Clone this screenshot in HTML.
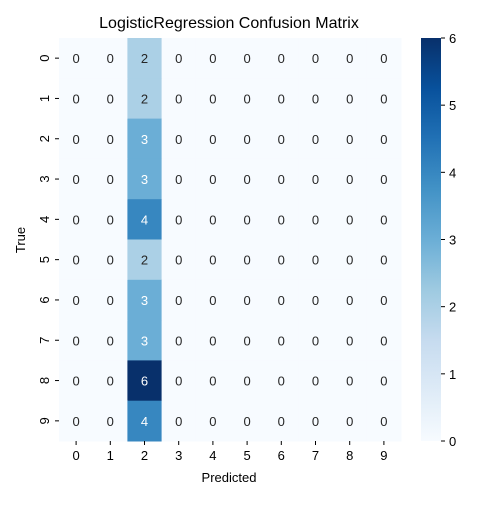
<!DOCTYPE html>
<html><head><meta charset="utf-8"><style>
body{margin:0;background:#fff}
text{font-family:"Liberation Sans","DejaVu Sans",sans-serif}
</style></head><body>
<svg id="c" width="500" height="500" xmlns="http://www.w3.org/2000/svg">
<defs><linearGradient id="g" x1="0" y1="1" x2="0" y2="0">
<stop offset="0" stop-color="#f7fbff"/><stop offset="0.125" stop-color="#deebf7"/><stop offset="0.25" stop-color="#c6dbef"/><stop offset="0.375" stop-color="#9ecae1"/><stop offset="0.5" stop-color="#6baed6"/><stop offset="0.625" stop-color="#4292c6"/><stop offset="0.75" stop-color="#2171b5"/><stop offset="0.875" stop-color="#08519c"/><stop offset="1" stop-color="#08306b"/>
</linearGradient></defs>
</svg>
<script>
const labels=["0","1","2","3","4","5","6","7","8","9"];
const col2=[2,2,3,3,4,2,3,3,6,4];
const cbTicks=[0,1,2,3,4,5,6];
const vmax=6;
const svg=document.getElementById('c');
const NS='http://www.w3.org/2000/svg';
const X0=59,Y0=38,CW=34.2,CH=40.3;
const stops=[[0,[247,251,255]],[.125,[222,235,247]],[.25,[198,219,239]],[.375,[158,202,225]],[.5,[107,174,214]],[.625,[66,146,198]],[.75,[33,113,181]],[.875,[8,81,156]],[1,[8,48,107]]];
function cmap(t){for(let i=1;i<stops.length;i++){if(t<=stops[i][0]){const a=stops[i-1],b=stops[i],f=(t-a[0])/(b[0]-a[0]);return 'rgb('+a[1].map((v,k)=>Math.round(v+(b[1][k]-v)*f)).join(',')+')';}}return 'rgb(8,48,107)';}
function el(t,a,txt){const e=document.createElementNS(NS,t);for(const k in a)e.setAttribute(k,a[k]);if(txt!==undefined)e.textContent=txt;svg.appendChild(e);return e;}
const xs=i=>X0+i*CW, ys=i=>Y0+i*CH;
for(let r=0;r<10;r++)for(let c=0;c<10;c++){
 const v=c===2?col2[r]:0;
 const rc=el('rect',{x:xs(c),y:ys(r),width:CW+0.5,height:CH+0.5,fill:cmap(v/vmax)});
 
 
 const t=el('text',{x:xs(c)+CW/2,y:ys(r)+CH/2+5,'text-anchor':'middle','font-size':13,fill:v>=3?'#fff':'#262626'},String(v));
 
 
}
labels.forEach((l,i)=>{
 el('line',{x1:xs(i)+CW/2,x2:xs(i)+CW/2,y1:Y0+10*CH,y2:Y0+10*CH+4,stroke:'#000'});
 const t=el('text',{x:xs(i)+CW/2,y:Y0+10*CH+19,'text-anchor':'middle','font-size':13},l);
 
 
 el('line',{x1:X0-4,x2:X0,y1:ys(i)+CH/2,y2:ys(i)+CH/2,stroke:'#000'});
 const cy=ys(i)+CH/2;
 const t2=el('text',{x:X0-10,y:cy,'text-anchor':'middle','font-size':13,transform:'rotate(-90 '+(X0-10)+' '+cy+')'},l);
 
 
});
const CBX=421,CBW=20,CBT=38,CBB=441;
const cb=el('rect',{x:CBX,y:CBT,width:CBW,height:CBB-CBT,fill:'url(#g)'});


cbTicks.forEach(v=>{
 const y=CBB-(v/vmax)*(CBB-CBT);
 el('line',{x1:CBX+CBW,x2:CBX+CBW+4,y1:y,y2:y,stroke:'#000'});
 const t=el('text',{x:CBX+CBW+8,y:y+5,'font-size':13},String(v));
 
 
});
const ti=el('text',{x:229,y:28,'text-anchor':'middle','font-size':16},'LogisticRegression Confusion Matrix');


const xl=el('text',{x:229,y:482,'text-anchor':'middle','font-size':13},'Predicted');


const yl=el('text',{x:25,y:240,'text-anchor':'middle','font-size':13,transform:'rotate(-90 25 240)'},'True');


</script>
</body></html>
